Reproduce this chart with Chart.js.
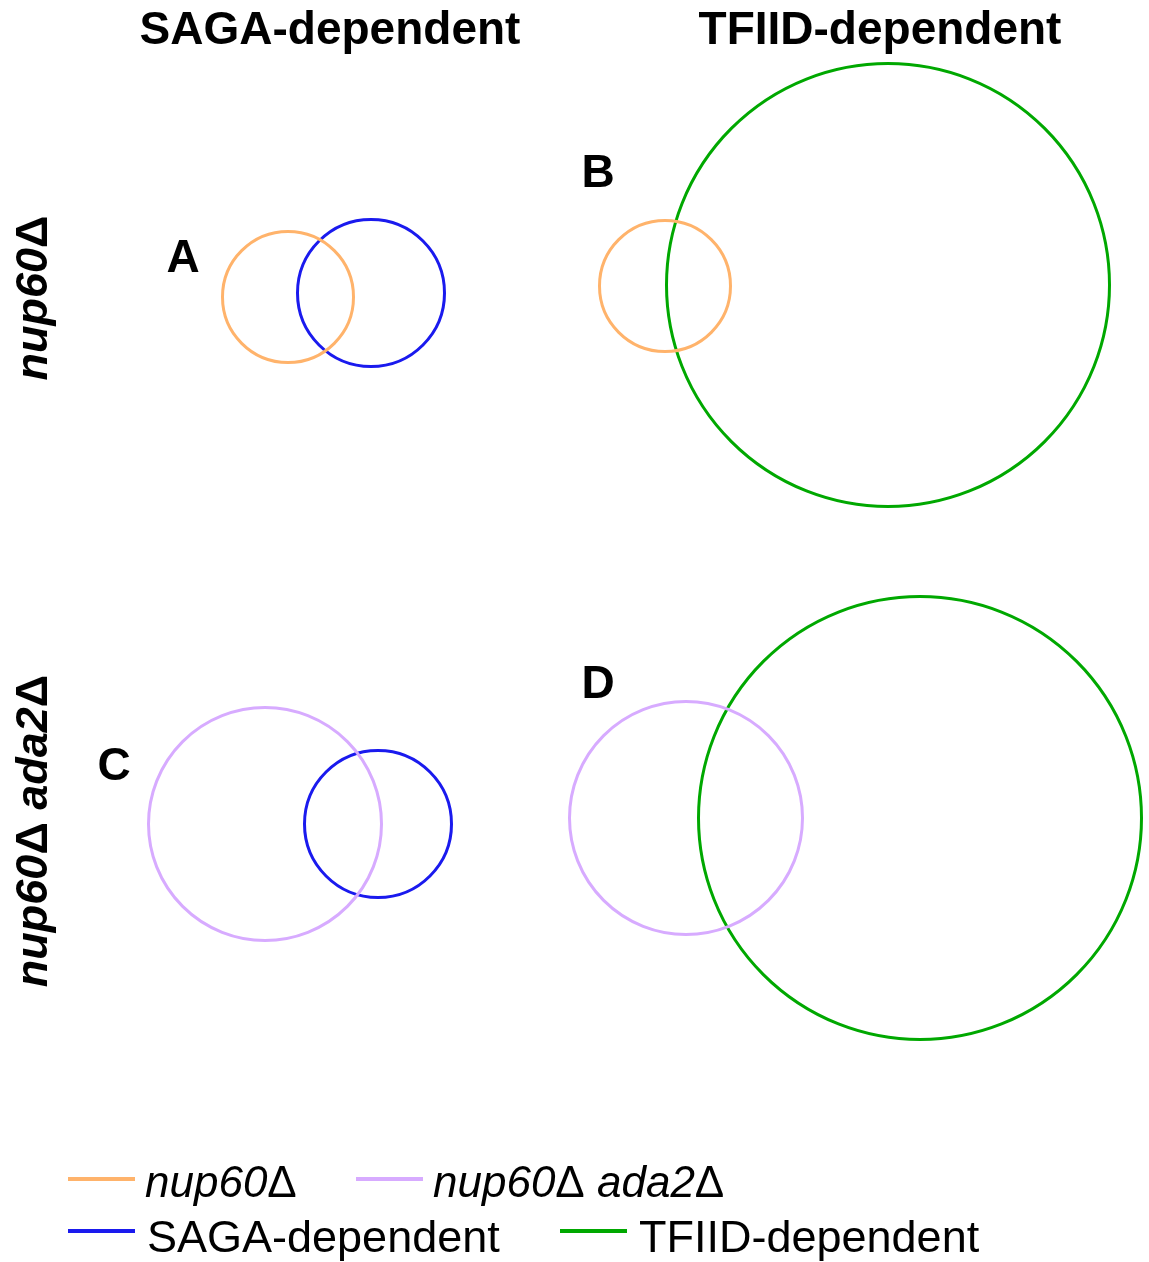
<!DOCTYPE html>
<html>
<head>
<meta charset="utf-8">
<script src="https://cdn.jsdelivr.net/npm/chart.js@4.4.1/dist/chart.umd.min.js"></script>
<style>
    html, body { margin: 0; padding: 0; background: #ffffff; }
    #wrap { position: relative; width: 1149px; height: 1262px; }
</style>
</head>
<body>
<div id="wrap"><canvas id="vennChart"></canvas></div>
<script>
// circle sets: centres and radii in layout units (1 unit = 10 px of the figure)
const setLabels = ["nup60Δ", "nup60Δ ada2Δ", "SAGA-dependent", "TFIID-dependent"];
const nup60X = [28.8, 66.5];
const nup60Y = [29.7, 28.6];
const nup60R = [6.55, 6.55];
const ada2X = [26.5, 68.6];
const ada2Y = [82.4, 81.8];
const ada2R = [11.65, 11.65];
const sagaX = [37.1, 37.8];
const sagaY = [29.3, 82.4];
const sagaR = [7.35, 7.35];
const tfiidX = [88.8, 92.0];
const tfiidY = [28.5, 81.8];
const tfiidR = [22.15, 22.15];
const columnTitles = ["SAGA-dependent", "TFIID-dependent"];
const rowTitles = ["nup60Δ", "nup60Δ ada2Δ"];
const panelLetters = ["A", "B", "C", "D"];

(function () {
    const colors = ["#ffb36b", "#d7abff", "#1a1aee", "#00a800"];
    const italicLabel = [true, true, false, false];
    const family = "'Liberation Sans', Arial, sans-serif";
    const boldFont = "bold 46px " + family;

    function points(xs, ys, rs) {
        return xs.map((x, i) => ({ x: x, y: ys[i], r: rs[i] }));
    }

    function circleRadius(ctx) {
        if (!ctx.raw || !ctx.chart.scales.x) {
            return 0;
        }
        const scale = ctx.chart.scales.x;
        return Math.abs(scale.getPixelForValue(ctx.raw.x + ctx.raw.r) - scale.getPixelForValue(ctx.raw.x));
    }

    function circleSet(index, data) {
        return {
            label: setLabels[index],
            data: data,
            pointStyle: "circle",
            pointRadius: circleRadius,
            pointBackgroundColor: "rgba(0,0,0,0)",
            pointBorderColor: colors[index],
            pointBorderWidth: 3,
            showLine: false,
            clip: false,
        };
    }

    // italic text, but the delta sign kept upright like the original figure
    function mixedText(ctx, text, x, y, italicFont, uprightFont, centered) {
        const parts = text.split(/(Δ)/).filter((p) => p.length);
        const fontOf = (p) => (p === "Δ" ? uprightFont : italicFont);
        let total = 0;
        parts.forEach((p) => {
            ctx.font = fontOf(p);
            total += ctx.measureText(p).width;
        });
        let cx = centered ? x - total / 2 : x;
        ctx.textAlign = "left";
        parts.forEach((p) => {
            ctx.font = fontOf(p);
            ctx.fillText(p, cx, y);
            cx += ctx.measureText(p).width;
        });
    }

    const textPlugin = {
        id: "vennText",
        afterDraw(chart) {
            const ctx = chart.ctx;
            ctx.save();
            ctx.fillStyle = "#000000";
            ctx.textBaseline = "alphabetic";
            ctx.textAlign = "center";
            ctx.font = boldFont;
            const titleX = [330, 880];
            columnTitles.forEach((t, i) => ctx.fillText(t, titleX[i], 44));

            const letterPos = [[183, 272], [598, 187], [114, 780], [598, 698]];
            panelLetters.forEach((t, i) => ctx.fillText(t, letterPos[i][0], letterPos[i][1]));

            const rowY = [298, 831];
            rowTitles.forEach((t, i) => {
                ctx.save();
                ctx.translate(47, rowY[i]);
                ctx.rotate(-Math.PI / 2);
                mixedText(ctx, t, 0, 0, "italic bold 45px " + family, "bold 45px " + family, true);
                ctx.restore();
            });

            // legend, two rows
            const slots = [[68, 1179, 1197], [356, 1179, 1197], [68, 1231, 1252], [560, 1231, 1252]];
            chart.data.datasets.forEach((ds, i) => {
                const [lx, ly, by] = slots[i];
                ctx.strokeStyle = colors[i];
                ctx.lineWidth = 4;
                ctx.beginPath();
                ctx.moveTo(lx, ly);
                ctx.lineTo(lx + 67, ly);
                ctx.stroke();
                if (italicLabel[i]) {
                    mixedText(ctx, ds.label, lx + 77, by, "italic 44px " + family, "44px " + family, false);
                } else {
                    ctx.textAlign = "left";
                    ctx.font = "45px " + family;
                    ctx.fillText(ds.label, lx + 79, by);
                }
            });
            ctx.restore();
        },
    };

    new Chart(document.getElementById("vennChart"), {
        type: "scatter",
        data: {
            datasets: [
                circleSet(0, points(nup60X, nup60Y, nup60R)),
                circleSet(1, points(ada2X, ada2Y, ada2R)),
                circleSet(2, points(sagaX, sagaY, sagaR)),
                circleSet(3, points(tfiidX, tfiidY, tfiidR)),
            ],
        },
        options: {
            responsive: true,
            maintainAspectRatio: false,
            animation: false,
            events: [],
            layout: { padding: 0 },
            plugins: { legend: { display: false }, tooltip: { enabled: false } },
            scales: {
                x: { type: "linear", min: 0, max: 114.9, display: false },
                y: { type: "linear", min: 0, max: 126.2, reverse: true, display: false },
            },
        },
        plugins: [textPlugin],
    });
})();
</script>
</body>
</html>
